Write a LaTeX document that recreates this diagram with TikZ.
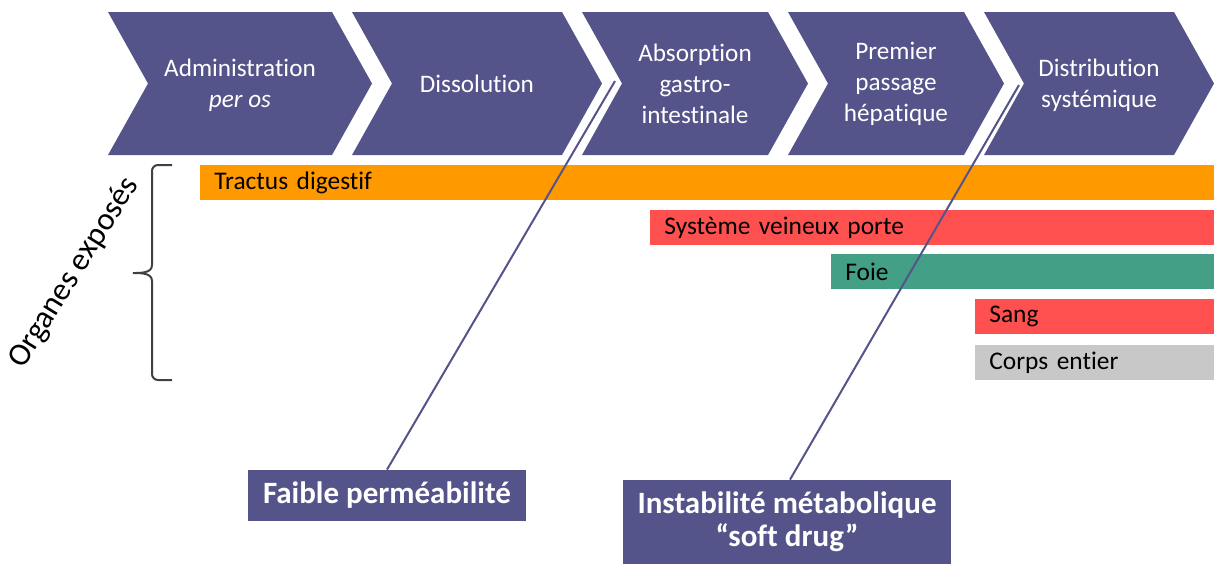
\documentclass[tikz,border=0pt]{standalone}
\usepackage{fontspec}
\setmainfont{Carlito}[Ligatures={NoCommon}]
\usepackage{tikz}
\usetikzlibrary{positioning}

\definecolor{violetE}{RGB}{85,84,138}
\definecolor{orangeT}{RGB}{255,153,0}
\definecolor{rougeS}{RGB}{255,80,80}
\definecolor{vertF}{RGB}{67,159,134}
\definecolor{grisC}{RGB}{200,200,200}
\definecolor{accol}{RGB}{64,64,64}

\begin{document}
\begin{tikzpicture}[x=0.5pt, y=-0.5pt,
    etape/.style = {fill=violetE},
    etiq/.style  = {text=white, align=center, font=\fontsize{12.6}{15.5}\selectfont},
    barre/.style = {anchor=north west, minimum height=17.5pt, inner xsep=7pt, inner ysep=0pt,
                    align=left, text width=#1, font=\fontsize{12.7}{15}\selectfont},
    boite/.style = {fill=violetE, text=white, align=center, inner sep=0pt,
                    font=\bfseries\fontsize{15.5}{16.5}\selectfont},
    lien/.style  = {draw=violetE, line width=1pt}]
    \useasboundingbox (0,0) rectangle (1214,564);

    % Les chevrons des etapes
    \foreach \xg/\xd in {108/332, 352/562, 582/768, 788/964, 984/1174}
      \fill[etape] (\xg,12) -- (\xd,12) -- (\xd+40,83.5) -- (\xd,155) -- (\xg,155) -- (\xg+40,83.5) -- cycle;
    \node[etiq] (adm)  at (240,85)  {Administration\\\textit{per os}};      % prise orale
    \node[etiq] (dis)  at (477,84)  {Dissolution};                          % dissolution
    \node[etiq] (abs)  at (695,84)  {Absorption\\gastro-\\intestinale};     % absorption
    \node[etiq] (hep)  at (896,84)  {Premier\\passage\\hépatique};          % foie
    \node[etiq] (dist) at (1099,85) {Distribution\\systémique};             % circulation
    \coordinate (cAbs)  at (615,81);   % encoche de l'absorption
    \coordinate (cDist) at (1019,85);  % encoche de la distribution

    % Organes exposes
    \node[barre=493pt, fill=orangeT] (tract) at (200,165) {Tractus digestif};
    \node[barre=268pt, fill=rougeS]  (porte) at (650,210) {Système veineux porte};
    \node[barre=177.5pt, fill=vertF] (foie)  at (831,254) {Foie};
    \node[barre=105.5pt, fill=rougeS] (sang) at (975,299) {Sang};
    \node[barre=105.5pt, fill=grisC, anchor=north, below=5pt of sang] (corps) {Corps entier};

    % Accolade et titre
    \draw[accol, line width=1pt] (172,165) -- (158,165) to[out=180,in=90] (152,171) -- (152,265)
      to[out=-90,in=0] (133,273) to[out=0,in=90] (152,281) -- (152,374) to[out=-90,in=180] (158,380) -- (172,380);
    \node[rotate=58, font=\fontsize{16}{19}\selectfont] (organes) at (74,273) {Organes exposés};

    % Les obstacles
    \node[boite, minimum width=139pt, minimum height=25.5pt] (faible) at (387,495.5) {Faible perméabilité};
    \node[boite, minimum width=164pt, minimum height=42pt] (instab) at (787,522) {Instabilité métabolique\\“soft drug”};
    \draw[lien] (faible.north) -- (cAbs);
    \draw[lien] ([xshift=1.5pt]instab.north) -- (cDist);
\end{tikzpicture}
\end{document}
